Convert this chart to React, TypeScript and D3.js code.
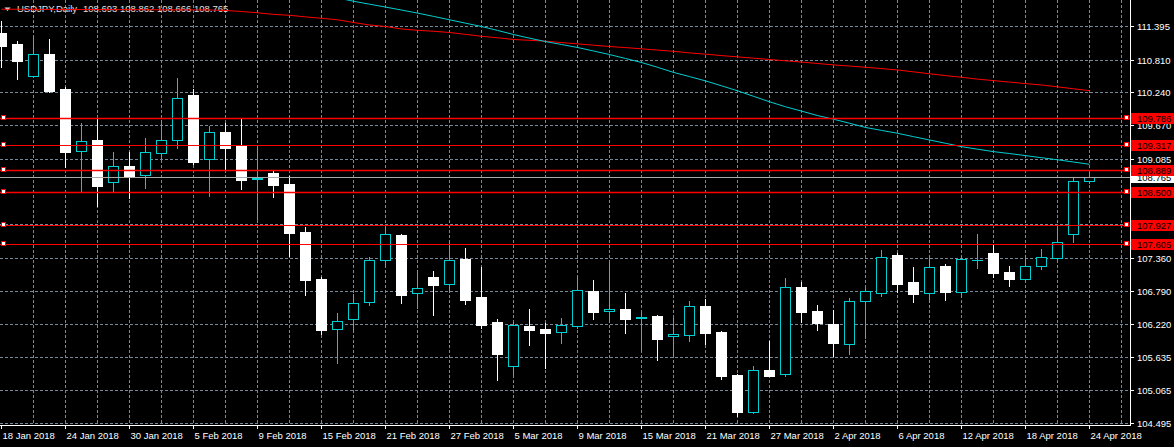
import React from "react";
import * as d3 from "d3";

// ---- Data (USDJPY Daily, 18 Jan 2018 – 24 Apr 2018, one entry per trading day) ----
const openP = [
  111.268, 111.082, 110.520, 110.908, 110.299, 109.216, 109.412, 108.676, 108.960, 108.798,
  109.181, 109.407, 110.195, 109.076, 109.551, 109.313, 108.728, 108.838, 108.647, 107.812,
  106.994, 106.119, 106.293, 106.589, 107.320, 107.760, 106.746, 107.024, 106.913, 107.342,
  106.681, 106.246, 105.476, 106.177, 106.125, 106.067, 106.172, 106.786, 106.433, 106.472,
  106.311, 106.351, 105.998, 106.026, 106.525, 106.072, 105.324, 104.686, 105.412, 105.347,
  106.855, 106.438, 106.212, 105.872, 106.606, 106.756, 107.412, 106.942, 106.746, 107.220,
  106.773, 107.320, 107.447, 107.116, 106.999, 107.215, 107.354, 107.772, 108.693,
];
const highP = [
  111.487, 111.134, 111.221, 111.169, 110.329, 109.708, 109.790, 109.198, 109.209, 109.452,
  109.760, 110.491, 110.299, 109.656, 109.708, 109.790, 109.313, 108.890, 108.791, 107.899,
  107.034, 106.403, 106.733, 107.372, 107.899, 107.782, 107.151, 107.133, 107.667, 107.534,
  107.203, 106.299, 106.246, 106.472, 106.224, 106.316, 107.041, 106.977, 107.290, 106.751,
  106.415, 106.368, 106.316, 106.612, 106.646, 106.085, 105.335, 105.481, 105.916, 107.012,
  106.942, 106.542, 106.455, 106.664, 106.833, 107.499, 107.452, 107.203, 107.394, 107.255,
  107.389, 107.777, 107.608, 107.220, 107.407, 107.516, 107.881, 108.756, 108.862,
];
const lowP = [
  110.687, 110.478, 110.500, 110.242, 108.948, 108.513, 108.264, 108.513, 108.398, 108.582,
  109.094, 109.278, 108.989, 108.443, 108.902, 108.565, 108.043, 108.426, 107.400, 106.721,
  106.032, 105.538, 106.067, 106.547, 107.220, 106.582, 106.485, 106.373, 106.773, 106.565,
  106.147, 105.243, 105.337, 105.852, 105.441, 105.886, 106.150, 106.304, 106.252, 106.055,
  105.747, 105.591, 105.650, 105.921, 105.859, 105.255, 104.606, 104.660, 105.300, 105.312,
  106.246, 106.107, 105.650, 105.695, 105.963, 106.704, 106.773, 106.600, 106.589, 106.634,
  106.693, 107.191, 107.029, 106.878, 106.980, 107.173, 107.340, 107.643, 108.666,
];
const closeP = [
  111.052, 110.791, 110.908, 110.270, 109.209, 109.389, 108.617, 108.955, 108.774, 109.198,
  109.407, 110.137, 109.035, 109.546, 109.278, 108.722, 108.756, 108.635, 107.800, 106.982,
  106.112, 106.259, 106.572, 107.320, 107.772, 106.721, 106.833, 106.895, 107.320, 106.634,
  106.199, 105.695, 106.189, 106.112, 106.060, 106.189, 106.798, 106.426, 106.467, 106.304,
  106.328, 105.956, 106.038, 106.519, 106.055, 105.307, 104.681, 105.406, 105.307, 106.850,
  106.420, 106.229, 105.881, 106.606, 106.780, 107.372, 106.913, 106.739, 107.198, 106.773,
  107.337, 107.330, 107.104, 106.999, 107.215, 107.372, 107.633, 108.694, 108.765,
];

// Slow moving average (red), one value per bar
const maSlow = [
  111.686, 111.686, 111.684, 111.684, 111.682, 111.682, 111.680, 111.680, 111.679, 111.678,
  111.677, 111.676, 111.675, 111.673, 111.665, 111.647, 111.625, 111.597, 111.581, 111.553,
  111.529, 111.503, 111.456, 111.412, 111.386, 111.343, 111.320, 111.303, 111.282, 111.249,
  111.216, 111.190, 111.160, 111.146, 111.131, 111.106, 111.084, 111.061, 111.038, 111.019,
  110.998, 110.976, 110.955, 110.927, 110.905, 110.880, 110.858, 110.835, 110.812, 110.790,
  110.767, 110.743, 110.718, 110.698, 110.677, 110.654, 110.630, 110.597, 110.564, 110.532,
  110.503, 110.471, 110.445, 110.419, 110.393, 110.369, 110.336, 110.303, 110.270,
];
// Faster moving average (cyan), starting at bar 21 (earlier values are above the chart)
const maFastStart = 21;
const maFast = [
  111.882, 111.826, 111.774, 111.724, 111.672, 111.619, 111.562, 111.503, 111.444,
  111.386, 111.318, 111.247, 111.183, 111.124, 111.073, 111.021, 110.960, 110.898, 110.830,
  110.760, 110.677, 110.588, 110.515, 110.440, 110.355, 110.268, 110.172, 110.077, 109.990,
  109.915, 109.837, 109.774, 109.703, 109.630, 109.579, 109.529, 109.470, 109.412, 109.355,
  109.296, 109.252, 109.210, 109.176, 109.141, 109.104, 109.068, 109.029, 108.989,
];

const levelValues = [109.786, 109.317, 108.889, 108.5, 107.927, 107.605];
const levelThick = [true, false, true, true, false, false];
const bidValue = 108.765;

const priceTicks = [
  111.395, 110.81, 110.24, 109.67, 109.085, 108.515, 107.945, 107.36, 106.79, 106.22,
  105.635, 105.065, 104.495,
];
const dateLabels = [
  "18 Jan 2018", "24 Jan 2018", "30 Jan 2018", "5 Feb 2018", "9 Feb 2018", "15 Feb 2018",
  "21 Feb 2018", "27 Feb 2018", "5 Mar 2018", "9 Mar 2018", "15 Mar 2018", "21 Mar 2018",
  "27 Mar 2018", "2 Apr 2018", "6 Apr 2018", "12 Apr 2018", "18 Apr 2018", "24 Apr 2018",
];
const labelEvery = 4;
const headerName = "USDJPY,Daily";
const headerValues = ["108.693", "108.862", "108.666", "108.765"];

// ---- Layout ----
const W = 1174;
const H = 447;
const PR = 1130; // plot right edge
const PB = 425; // plot bottom edge
const FONT = "Tahoma, 'Liberation Sans', Arial, sans-serif";
const FS = 9.5;
const CYAN = "#00ced1";
const RED = "#ff0000";
const GRID = "#778899";

export default function App() {
  const x = d3.scaleLinear().domain([0, 1]).range([1, 17]);
  const y = d3.scaleLinear().domain([104.455, 111.847]).range([PB, 0]);
  const fmt = d3.format(".3f");

  const n = openP.length;
  const gridXs: number[] = [];
  for (let i = 2; x(i) < PR; i += 2) gridXs.push(Math.round(x(i)) + 0.5);

  const slowLine = d3
    .line<number>()
    .x((_, i) => Math.round(x(i)) + 0.5)
    .y((v) => y(v))(maSlow);
  const fastLine = d3
    .line<number>()
    .x((_, i) => Math.round(x(i + maFastStart)) + 0.5)
    .y((v) => y(v))(maFast);

  const candles = d3.range(n).map((i) => {
    const cx = Math.round(x(i));
    const o = openP[i], c = closeP[i], h = highP[i], l = lowP[i];
    const yO = Math.round(y(o)), yC = Math.round(y(c));
    const yH = Math.round(y(h)), yL = Math.round(y(l));
    const top = Math.min(yO, yC), bot = Math.max(yO, yC);
    const bull = c > o;
    if (!bull) {
      return (
        <g key={i}>
          <line x1={cx + 0.5} x2={cx + 0.5} y1={yH} y2={yL + 1} stroke="#fff" strokeWidth={1} />
          <rect x={cx - 5} y={top} width={11} height={Math.max(1, bot - top + 1)} fill="#fff" />
        </g>
      );
    }
    return (
      <g key={i}>
        <line x1={cx + 0.5} x2={cx + 0.5} y1={yH} y2={top} stroke={CYAN} strokeWidth={1} />
        <line x1={cx + 0.5} x2={cx + 0.5} y1={bot} y2={yL + 1} stroke={CYAN} strokeWidth={1} />
        <rect
          x={cx - 4.5}
          y={top + 0.5}
          width={10}
          height={Math.max(0.01, bot - top)}
          fill="#000"
          stroke={CYAN}
          strokeWidth={1}
        />
      </g>
    );
  });

  return (
    <svg
      width={W}
      height={H}
      style={{ position: "absolute", left: 0, top: 0, display: "block", background: "#000" }}
      fontFamily={FONT}
    >
      <defs>
        <clipPath id="plot">
          <rect x={0} y={0} width={PR} height={PB} />
        </clipPath>
      </defs>
      <rect x={0} y={0} width={W} height={H} fill="#000" />

      {/* grid */}
      <g stroke={GRID} strokeWidth={1} strokeDasharray="3,2">
        {priceTicks.map((t) => (
          <line key={t} x1={0} x2={PR} y1={Math.round(y(t)) + 0.5} y2={Math.round(y(t)) + 0.5} />
        ))}
        {gridXs.map((gx) => (
          <line key={gx} x1={gx} x2={gx} y1={0} y2={PB} />
        ))}
      </g>

      {/* header */}
      <path d="M4.5,7.5 L10.5,7.5 L7.5,11 Z" fill="#e8e8e8" />
      <text x={17} y={12} fontSize={FS} fill="#e0e0e0">
        {headerName}
      </text>
      <text x={83} y={12} fontSize={FS} fill="#e0e0e0">
        {headerValues.join(" ")}
      </text>

      <g clipPath="url(#plot)">
        {candles}
        <path d={slowLine || ""} fill="none" stroke={RED} strokeWidth={1} />
        <path d={fastLine || ""} fill="none" stroke={CYAN} strokeWidth={1} />

        {/* horizontal levels */}
        {levelValues.map((v, k) => {
          const yy = Math.round(y(v)) + 0.5;
          return (
            <line
              key={v}
              x1={0}
              x2={PR}
              y1={yy}
              y2={yy}
              stroke={RED}
              strokeWidth={levelThick[k] ? 1.6 : 1}
            />
          );
        })}
        {/* bid line */}
        <line
          x1={0}
          x2={PR}
          y1={Math.round(y(bidValue)) + 0.5}
          y2={Math.round(y(bidValue)) + 0.5}
          stroke="#a9a9a9"
          strokeWidth={1}
        />
        {levelValues.map((v) => {
          const yy = Math.round(y(v));
          return (
            <g key={"sq" + v} fill="#fff" stroke={RED} strokeWidth={1}>
              <rect x={1.5} y={yy - 2.5} width={4} height={4} />
              <rect x={1124.5} y={yy - 2.5} width={4} height={4} />
            </g>
          );
        })}
      </g>

      {/* frame */}
      <line x1={PR + 0.5} x2={PR + 0.5} y1={0} y2={PB + 1} stroke="#fff" strokeWidth={1} />
      <line x1={0} x2={PR + 1} y1={PB + 0.5} y2={PB + 0.5} stroke="#fff" strokeWidth={1} />

      {/* price axis */}
      {priceTicks.map((t) => {
        const yy = Math.round(y(t)) + 0.5;
        return (
          <g key={"pt" + t}>
            <line x1={PR} x2={PR + 4} y1={yy} y2={yy} stroke="#fff" strokeWidth={1} />
            <text x={1137} y={yy} dy="0.35em" fontSize={FS} fill="#fff">
              {fmt(t)}
            </text>
          </g>
        );
      })}

      {/* bid label */}
      <rect x={1131} y={Math.round(y(bidValue)) - 5} width={43} height={11} fill="#fff" />
      <text x={1137} y={Math.round(y(bidValue)) + 0.5} dy="0.35em" fontSize={FS} fill="#000">
        {fmt(bidValue)}
      </text>

      {/* level labels */}
      {levelValues.map((v) => {
        const yy = Math.round(y(v));
        return (
          <g key={"ll" + v}>
            <rect x={1131} y={yy - 5} width={43} height={11} fill={RED} />
            <text x={1137} y={yy + 0.5} dy="0.35em" fontSize={FS} fill="#000">
              {fmt(v)}
            </text>
          </g>
        );
      })}

      {/* time axis */}
      {dateLabels.map((lab, k) => {
        const tx = Math.round(x(k * labelEvery)) + 0.5;
        return (
          <g key={lab}>
            <line x1={tx} x2={tx} y1={PB} y2={PB + 4} stroke="#fff" strokeWidth={1} />
            <text x={tx + 1} y={438.5} fontSize={FS} fill="#fff">
              {lab}
            </text>
          </g>
        );
      })}
    </svg>
  );
}
